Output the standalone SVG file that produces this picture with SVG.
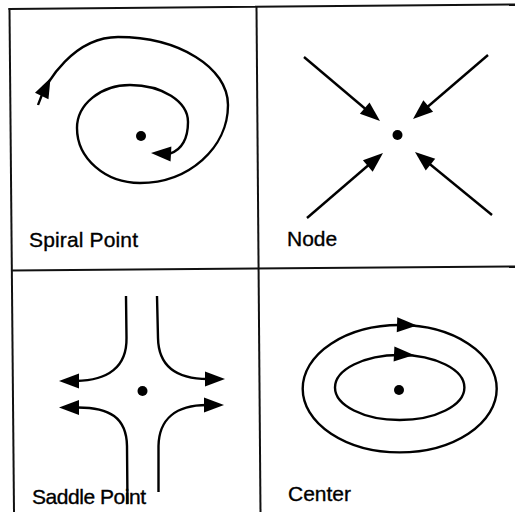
<svg xmlns="http://www.w3.org/2000/svg" xmlns:xlink="http://www.w3.org/1999/xlink" width="515" height="512" viewBox="0 0 515 512">
  <style>
    .frame { stroke: #111; stroke-width: 2; fill: none; stroke-linecap: square; }
    .curve { stroke: #000; stroke-width: 2.4; fill: none; }
    .head { fill: #000; stroke: none; }
    .dot { fill: #000; }
    .label { font-family: "Liberation Sans", Arial, Helvetica, sans-serif; font-size: 21px; fill: #000; stroke: #000; stroke-width: 0.35; }
  </style>
  <defs>
    <path id="ah" d="M0,0 L-20,-7.5 L-20,7.5 Z"/>
  </defs>
  <rect x="0" y="0" width="515" height="512" fill="#fff"/>

  <g id="frame">
    <line class="frame" x1="9.5" y1="9" x2="14" y2="512"/>
    <line class="frame" x1="9.5" y1="9" x2="515" y2="4.5"/>
    <line class="frame" x1="256.5" y1="7" x2="260.5" y2="512"/>
    <line class="frame" x1="12" y1="270.5" x2="515" y2="266.5"/>
  </g>

  <g id="spiral-point">
    <circle class="dot" cx="141" cy="136" r="5"/>
    <text class="label" x="29" y="247" textLength="109">Spiral Point</text>
  </g>

  <g id="node">
    <circle class="dot" cx="397.5" cy="135" r="5"/>
    <text class="label" x="287" y="245.5">Node</text>
  </g>

  <g id="saddle-point">
    <circle class="dot" cx="142.5" cy="391" r="5"/>
    <text class="label" x="32" y="504" textLength="114">Saddle Point</text>
  </g>

  <g id="center">
    <circle class="dot" cx="399" cy="390" r="5"/>
    <text class="label" x="288" y="501">Center</text>
  </g>

  <g id="connectors">
    <!-- spiral -->
    <path class="curve" d="M38,105 C46,80 75,37 118,37 C178.8,37 228,67.4 228,105 C228,148 188.6,183 140,183 C105.2,183 77,158.4 77,128 C77,104.3 100.7,85 130,85 C162,85 188,101.6 188,122 C188,138 182,150 170,153.5"/>
    <use href="#ah" xlink:href="#ah" class="head" transform="translate(50.5,78) rotate(-64)"/>
    <use href="#ah" xlink:href="#ah" class="head" transform="translate(151,153) rotate(183)"/>

    <!-- node -->
    <line class="curve" x1="304" y1="57" x2="372" y2="114.5"/>
    <use href="#ah" xlink:href="#ah" class="head" transform="translate(380,121) rotate(40.1)"/>
    <line class="curve" x1="488" y1="55" x2="421" y2="112.5"/>
    <use href="#ah" xlink:href="#ah" class="head" transform="translate(413,119) rotate(139.5)"/>
    <line class="curve" x1="307" y1="218" x2="375" y2="159.5"/>
    <use href="#ah" xlink:href="#ah" class="head" transform="translate(383,153) rotate(-40.5)"/>
    <line class="curve" x1="492" y1="215" x2="423" y2="158.5"/>
    <use href="#ah" xlink:href="#ah" class="head" transform="translate(415,152) rotate(-140.7)"/>

    <!-- saddle -->
    <path class="curve" d="M126,296 L126.5,338 C127,367 108,380.5 76,381"/>
    <use href="#ah" xlink:href="#ah" class="head" transform="translate(59,381) rotate(180)"/>
    <path class="curve" d="M157,296 L158,338 C158.5,366 176,379 208,379"/>
    <use href="#ah" xlink:href="#ah" class="head" transform="translate(225,379)"/>
    <path class="curve" d="M127.5,504 L127,446 C126.5,418 110,407 76,407.5"/>
    <use href="#ah" xlink:href="#ah" class="head" transform="translate(59,407.5) rotate(180)"/>
    <path class="curve" d="M158.5,492 L158.5,446 C159,419 176,405 207,405"/>
    <use href="#ah" xlink:href="#ah" class="head" transform="translate(224,405)"/>

    <!-- center -->
    <ellipse class="curve" cx="399.7" cy="388.7" rx="97" ry="63.7"/>
    <use href="#ah" xlink:href="#ah" class="head" transform="translate(417,325.5) rotate(2)"/>
    <ellipse class="curve" cx="399.7" cy="387.5" rx="64.7" ry="32.5"/>
    <use href="#ah" xlink:href="#ah" class="head" transform="translate(414,355) rotate(3)"/>
  </g>
</svg>
